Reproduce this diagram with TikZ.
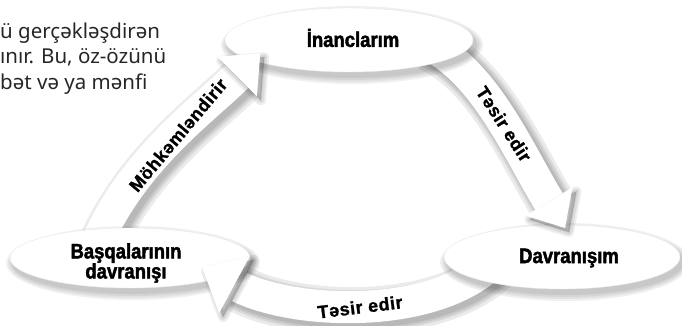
\documentclass[tikz,border=0pt]{standalone}
\usepackage{fontspec}
\setmainfont{Noto Sans}
\newfontfamily\labelfont[FakeStretch=0.88,FakeBold=2]{Liberation Sans}
\newfontfamily\arrowfont[LetterSpace=3,FakeBold=1.2]{Liberation Sans}
\usetikzlibrary{shapes.geometric}

\tikzset{
  bubble/.style={ellipse, fill=white, draw=black!8, inner sep=0pt},
  tag/.style={font={\labelfont\bfseries\fontsize{21}{20}\selectfont}, align=center, inner sep=0pt},
  band/.style={line width=32pt, white},
  bandshadow/.style={line width=#1, black, opacity=0.08, transform canvas={shift={(4pt,-4pt)}}},
  headshadow/.style={line width=#1, draw=black, fill=black, opacity=0.07, line join=round, transform canvas={shift={(4pt,-4pt)}}},
  arrowtext/.style={font={\arrowfont\bfseries\fontsize{18}{18}\selectfont}, inner sep=0pt},
  para/.style={font={\fontsize{20.5}{25.5}\selectfont}, anchor=base west, inner sep=0pt, text=black!85},
}

\begin{document}
\begin{tikzpicture}[x=1pt, y=1pt]
\useasboundingbox (0,0) rectangle (682,325);

% text of the page
\node[para] (line1) at (0,287) {ü gerçəkləşdirən};
\node[para] (line2) at (0,261.5) {ınır. Bu, öz-özünü};
\node[para] (line3) at (0,236) {bət və ya mənfi};

% arrow ends
\coordinate (a1s) at (96,80);
\coordinate (a1m) at (237,248.5);
\coordinate (a2s) at (425,282);
\coordinate (a2m) at (549,123.5);
\coordinate (a3s) at (490,60);
\coordinate (a3m) at (234.5,40.5);

% bodies
\foreach \w in {48,42,38,34} {
  \draw[bandshadow=\w pt] (a1s) .. controls (132,165) and (205,216.5) .. (a1m);
  \draw[bandshadow=\w pt] (a2s) .. controls (485,255) and (520,170) .. (a2m);
  \draw[bandshadow=\w pt] (a3s) .. controls (430,5) and (291.7,9.7) .. (a3m);
}
\draw[band] (a1s) .. controls (132,165) and (205,216.5) .. (a1m);
\draw[band] (a2s) .. controls (485,255) and (520,170) .. (a2m);
\draw[band] (a3s) .. controls (430,5) and (291.7,9.7) .. (a3m);

% bubbles
\foreach \r in {1,3,5,7} {
  \fill[black, opacity=0.06] (352,280) ellipse [x radius={(124+\r)*1pt}, y radius={(32+\r)*1pt}];
  \fill[black, opacity=0.06] (565,63) ellipse [x radius={(118+\r)*1pt}, y radius={(32+\r)*1pt}];
  \fill[black, opacity=0.06] (133,62) ellipse [x radius={(120+\r)*1pt}, y radius={(30+\r)*1pt}];
}
\node[bubble, minimum width=248pt, minimum height=64pt] (beliefs) at (349,285) {};
\node[bubble, minimum width=236pt, minimum height=64pt] (behav) at (562,68) {};
\node[bubble, minimum width=240pt, minimum height=60pt] (others) at (130,67) {};

\node[tag] (beliefsText) at (353,287) {İnanclarım};
\node[tag] (behavText) at (569,67) {Davranışım};
\node[tag] (othersText) at (126,62) {Başqalarının\\davranışı};

% heads
\coordinate (h1tip) at (260.3,271.8);
\coordinate (h1a) at (217.2,268.3);
\coordinate (h1b) at (256.8,228.7);
\coordinate (h2tip) at (565,97);
\coordinate (h2a) at (572.5,137.7);
\coordinate (h2b) at (525.5,109.3);
\coordinate (h3tip) at (201.9,58);
\coordinate (h3a) at (249.9,69.1);
\coordinate (h3b) at (219.1,11.9);
\foreach \w in {10,6,2} {
  \filldraw[headshadow=\w pt] (h1tip) -- (h1a) -- (h1b) -- cycle;
  \filldraw[headshadow=\w pt] (h2tip) -- (h2a) -- (h2b) -- cycle;
  \filldraw[headshadow=\w pt] (h3tip) -- (h3a) -- (h3b) -- cycle;
}
\fill[white] (h1tip) -- (h1a) -- (h1b) -- cycle;
\fill[white] (h2tip) -- (h2a) -- (h2b) -- cycle;
\fill[white] (h3tip) -- (h3a) -- (h3b) -- cycle;

% words on the arrows
\node[arrowtext, rotate=50] (reinforce) at (178,190) {Möhkəmləndirir};
\node[arrowtext, rotate=-57] (affect1) at (504,201) {Təsir edir};
\node[arrowtext, rotate=7] (affect2) at (360,18) {Təsir edir};
\end{tikzpicture}
\end{document}
